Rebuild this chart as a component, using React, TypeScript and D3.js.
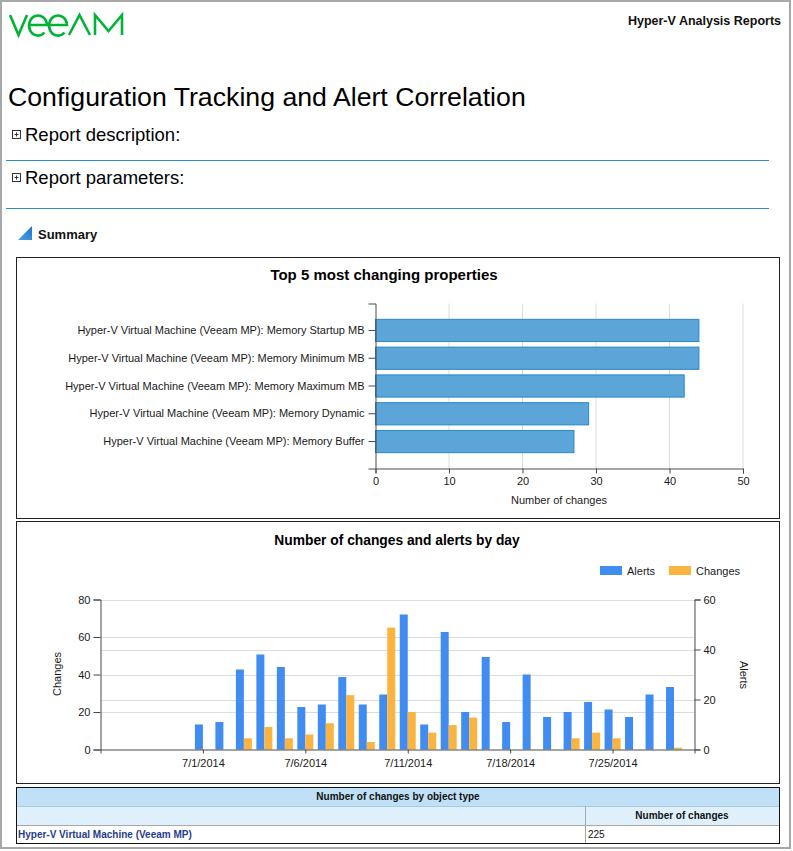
import React, { useEffect, useRef } from "react";
import * as d3 from "d3";

const FONT = "Tahoma, 'Liberation Sans', Arial, sans-serif";

// Top 5 most changing properties
const properties = [
  "Hyper-V Virtual Machine (Veeam MP): Memory Startup MB",
  "Hyper-V Virtual Machine (Veeam MP): Memory Minimum MB",
  "Hyper-V Virtual Machine (Veeam MP): Memory Maximum MB",
  "Hyper-V Virtual Machine (Veeam MP): Memory Dynamic",
  "Hyper-V Virtual Machine (Veeam MP): Memory Buffer",
];
const propertyChanges = [44, 44, 42, 29, 27];
const propertyTicks = [0, 10, 20, 30, 40, 50];

// Number of changes and alerts by day
const days = [
  "6/26/2014", "6/27/2014", "6/28/2014", "6/29/2014", "6/30/2014",
  "7/1/2014", "7/2/2014", "7/3/2014", "7/4/2014", "7/5/2014",
  "7/6/2014", "7/7/2014", "7/8/2014", "7/9/2014", "7/10/2014",
  "7/11/2014", "7/14/2014", "7/15/2014", "7/16/2014", "7/17/2014",
  "7/18/2014", "7/21/2014", "7/22/2014", "7/23/2014", "7/24/2014",
  "7/25/2014", "7/28/2014", "7/29/2014", "7/30/2014", "7/31/2014",
];
const alerts = [
  0, 0, 0, 0, 0, 10, 11, 32, 38, 33, 17, 18, 29, 18, 22,
  54, 10, 47, 15, 37, 11, 30, 13, 15, 19, 16, 13, 22, 25, 0,
];
const changes = [
  0, 0, 0, 0, 0, 0, 0, 6, 12, 6, 8, 14, 29, 4, 65,
  20, 9, 13, 17, 0, 0, 0, 0, 6, 9, 6, 0, 0, 1, 0,
];
const dayTicks = ["7/1/2014", "7/6/2014", "7/11/2014", "7/18/2014", "7/25/2014"];
const changesTicks = [0, 20, 40, 60, 80];
const alertsTicks = [0, 20, 40, 60];
const seriesNames = ["Alerts", "Changes"];
const seriesColors = ["#418cf0", "#fcb441"];

// Number of changes by object type
const objectTypes = ["Hyper-V Virtual Machine (Veeam MP)"];
const objectTypeChanges = [225];

// logo letters drawn as strokes (v, e, e, A, M)
const logoPaths = [
  "M10,15L18.5,35L27,15",
  "M29.5,25H47A9,10 0 1 0 44.5,32.5",
  "M49.5,25H67A9,10 0 1 0 64.5,32.5",
  "M69,35L79.5,15L90,35",
  "M95,35V15L108.5,31L122,15V35",
];

const styleAxis = (g: d3.Selection<SVGGElement, unknown, null, undefined>) => {
  g.attr("font-family", FONT).attr("font-size", 11);
  g.selectAll("path, line").attr("stroke", "#4a4a4a");
  g.selectAll("text").attr("fill", "#1a1a1a");
};

const App: React.FC = () => {
  const svgRef = useRef<SVGSVGElement>(null);

  useEffect(() => {
    if (!svgRef.current) return;
    const svg = d3.select(svgRef.current);
    svg.selectAll("*").remove();

    // page frame
    svg.append("rect").attr("x", 1).attr("y", 1).attr("width", 789).attr("height", 847)
      .attr("fill", "#fff").attr("stroke", "#a8a8a8").attr("stroke-width", 2);

    // header
    svg.append("g").selectAll("path").data(logoPaths).enter().append("path")
      .attr("d", (d) => d).attr("fill", "none").attr("stroke", "#00b336")
      .attr("stroke-width", 2.6).attr("stroke-linejoin", "miter");

    svg.append("text").attr("x", 781).attr("y", 25).attr("text-anchor", "end")
      .attr("font-family", FONT).attr("font-size", 12.5).attr("font-weight", "bold")
      .attr("fill", "#111").text("Hyper-V Analysis Reports");

    svg.append("text").attr("x", 8).attr("y", 106).attr("font-family", FONT)
      .attr("font-size", 26.7).attr("fill", "#000")
      .text("Configuration Tracking and Alert Correlation");

    const sections = [
      { label: "Report description:", y: 141, line: 160 },
      { label: "Report parameters:", y: 184, line: 208 },
    ];
    sections.forEach((s) => {
      const g = svg.append("g");
      g.append("rect").attr("x", 12.5).attr("y", s.y - 10.5).attr("width", 8).attr("height", 8)
        .attr("fill", "#fff").attr("stroke", "#333");
      g.append("path").attr("d", `M14.5,${s.y - 6.5}H18.5M16.5,${s.y - 8.5}V${s.y - 4.5}`)
        .attr("stroke", "#333");
      g.append("text").attr("x", 25).attr("y", s.y).attr("font-family", FONT)
        .attr("font-size", 18.5).attr("fill", "#000").text(s.label);
      g.append("line").attr("x1", 6).attr("x2", 769).attr("y1", s.line + 0.5).attr("y2", s.line + 0.5)
        .attr("stroke", "#2b8ad6");
    });

    const grad = svg.append("defs").append("linearGradient").attr("id", "tri")
      .attr("x1", 0).attr("y1", 1).attr("x2", 1).attr("y2", 0);
    grad.append("stop").attr("offset", "0%").attr("stop-color", "#4ea3e6");
    grad.append("stop").attr("offset", "100%").attr("stop-color", "#1c74c6");
    svg.append("path").attr("d", "M18,240L32,240L32,226Z").attr("fill", "url(#tri)");
    svg.append("text").attr("x", 38).attr("y", 239).attr("font-family", FONT)
      .attr("font-size", 13).attr("font-weight", "bold").attr("fill", "#111").text("Summary");

    // ---------- chart 1 ----------
    svg.append("rect").attr("x", 16.5).attr("y", 257.5).attr("width", 763).attr("height", 261)
      .attr("fill", "#fff").attr("stroke", "#222");
    svg.append("text").attr("x", 384).attr("y", 280).attr("text-anchor", "middle")
      .attr("font-family", FONT).attr("font-size", 15).attr("font-weight", "bold")
      .attr("fill", "#000").text("Top 5 most changing properties");

    const x1 = d3.scaleLinear().domain([0, 50]).range([375.5, 743]);
    const y1 = d3.scaleBand().domain(properties).range([303.5, 468.5])
      .paddingInner(0.2).paddingOuter(0.57);

    svg.append("g").selectAll("line").data(propertyTicks.slice(1)).enter().append("line")
      .attr("x1", (d) => x1(d)).attr("x2", (d) => x1(d))
      .attr("y1", 303.5).attr("y2", 468.5).attr("stroke", "#dcdcdc");

    svg.append("g").selectAll("rect").data(properties).enter().append("rect")
      .attr("x", x1(0))
      .attr("y", (d) => y1(d)!)
      .attr("width", (_d, i) => x1(propertyChanges[i]) - x1(0))
      .attr("height", y1.bandwidth())
      .attr("fill", "#5ba5d8").attr("stroke", "#2b86c8");

    const ax1 = svg.append("g").attr("transform", "translate(375.5,0)")
      .call(d3.axisLeft(y1).tickSize(7).tickPadding(4));
    styleAxis(ax1);
    const bx1 = svg.append("g").attr("transform", "translate(0,468.5)")
      .call(d3.axisBottom(x1).tickValues(propertyTicks).tickSize(5).tickPadding(4));
    styleAxis(bx1);
    svg.append("text").attr("x", 559).attr("y", 504).attr("text-anchor", "middle")
      .attr("font-family", FONT).attr("font-size", 11).attr("fill", "#1a1a1a")
      .text("Number of changes");

    // ---------- chart 2 ----------
    svg.append("rect").attr("x", 16.5).attr("y", 521.5).attr("width", 763).attr("height", 262)
      .attr("fill", "#fff").attr("stroke", "#222");
    svg.append("text").attr("x", 397).attr("y", 545).attr("text-anchor", "middle")
      .attr("font-family", FONT).attr("font-size", 13.8).attr("font-weight", "bold")
      .attr("fill", "#000").text("Number of changes and alerts by day");

    const x2 = d3.scalePoint().domain(days).range([100.5, 694.5]);
    const yL = d3.scaleLinear().domain([0, 80]).range([749.5, 599.5]);
    const yR = d3.scaleLinear().domain([0, 60]).range([749.5, 599.5]);
    const sub = d3.scaleBand().domain(seriesNames).range([-8, 8]);

    const grid = svg.append("g");
    changesTicks.slice(1).forEach((t) => {
      grid.append("line").attr("x1", 100.5).attr("x2", 694.5)
        .attr("y1", Math.round(yL(t)) + 0.5).attr("y2", Math.round(yL(t)) + 0.5).attr("stroke", "#dcdcdc");
    });
    alertsTicks.slice(1).forEach((t) => {
      grid.append("line").attr("x1", 100.5).attr("x2", 694.5)
        .attr("y1", Math.round(yR(t)) + 0.5).attr("y2", Math.round(yR(t)) + 0.5).attr("stroke", "#dcdcdc");
    });

    const groups = svg.append("g").selectAll("g").data(days).enter().append("g")
      .attr("transform", (d) => `translate(${x2(d)},0)`);
    groups.append("rect")
      .attr("x", sub("Alerts")!).attr("width", sub.bandwidth())
      .attr("y", (_d, i) => yR(alerts[i]))
      .attr("height", (_d, i) => yR(0) - yR(alerts[i]))
      .attr("fill", seriesColors[0]);
    groups.append("rect")
      .attr("x", sub("Changes")!).attr("width", sub.bandwidth())
      .attr("y", (_d, i) => yL(changes[i]))
      .attr("height", (_d, i) => yL(0) - yL(changes[i]))
      .attr("fill", seriesColors[1]);

    const ax2 = svg.append("g").attr("transform", "translate(100.5,0)")
      .call(d3.axisLeft(yL).tickValues(changesTicks).tickSize(7).tickPadding(3));
    styleAxis(ax2);
    const ar2 = svg.append("g").attr("transform", "translate(694.5,0)")
      .call(d3.axisRight(yR).tickValues(alertsTicks).tickSize(6).tickPadding(3));
    styleAxis(ar2);
    const bx2 = svg.append("g").attr("transform", "translate(0,749.5)")
      .call(d3.axisBottom(x2).tickValues(dayTicks).tickSize(4).tickPadding(6));
    styleAxis(bx2);

    svg.append("text").attr("transform", "translate(57,674) rotate(-90)")
      .attr("text-anchor", "middle").attr("dy", "0.35em")
      .attr("font-family", FONT).attr("font-size", 11).attr("fill", "#1a1a1a").text("Changes");
    svg.append("text").attr("transform", "translate(744,675) rotate(90)")
      .attr("text-anchor", "middle").attr("dy", "0.35em")
      .attr("font-family", FONT).attr("font-size", 11).attr("fill", "#1a1a1a").text("Alerts");

    const legendX = [600, 669];
    seriesNames.forEach((name, i) => {
      svg.append("rect").attr("x", legendX[i]).attr("y", 566).attr("width", 22).attr("height", 9)
        .attr("fill", seriesColors[i]);
      svg.append("text").attr("x", legendX[i] + 27).attr("y", 575).attr("font-family", FONT)
        .attr("font-size", 11).attr("fill", "#1a1a1a").text(name);
    });

    // ---------- table ----------
    const tbl = svg.append("g").attr("font-family", FONT).attr("font-size", 10);
    tbl.append("rect").attr("x", 16.5).attr("y", 787.5).attr("width", 763).attr("height", 19)
      .attr("fill", "#bfe0f6");
    tbl.append("rect").attr("x", 16.5).attr("y", 806.5).attr("width", 763).attr("height", 19)
      .attr("fill", "#dff0fc");
    tbl.append("line").attr("x1", 16.5).attr("x2", 779.5).attr("y1", 806.5).attr("y2", 806.5)
      .attr("stroke", "#a9c9de");
    tbl.append("line").attr("x1", 585.5).attr("x2", 585.5).attr("y1", 806.5).attr("y2", 825.5 + objectTypes.length * 18)
      .attr("stroke", "#a8a8a8");
    tbl.append("text").attr("x", 398).attr("y", 800).attr("text-anchor", "middle")
      .attr("font-weight", "bold").attr("fill", "#111").text("Number of changes by object type");
    tbl.append("text").attr("x", 682).attr("y", 819).attr("text-anchor", "middle")
      .attr("font-weight", "bold").attr("fill", "#111").text("Number of changes");
    objectTypes.forEach((t, i) => {
      const y = 825.5 + i * 18;
      tbl.append("line").attr("x1", 16.5).attr("x2", 779.5).attr("y1", y).attr("y2", y)
        .attr("stroke", "#a8a8a8");
      tbl.append("text").attr("x", 18).attr("y", y + 12.5).attr("font-weight", "bold")
        .attr("fill", "#1f3d8f").text(t);
      tbl.append("text").attr("x", 588).attr("y", y + 12.5).attr("fill", "#111")
        .text(String(objectTypeChanges[i]));
    });
    tbl.append("rect").attr("x", 16.5).attr("y", 787.5).attr("width", 763)
      .attr("height", 38 + objectTypes.length * 18).attr("fill", "none").attr("stroke", "#111");
  }, []);

  return (
    <svg
      ref={svgRef}
      width={793}
      height={851}
      style={{ position: "absolute", left: 0, top: 0, background: "#fff" }}
    />
  );
};

export default App;
